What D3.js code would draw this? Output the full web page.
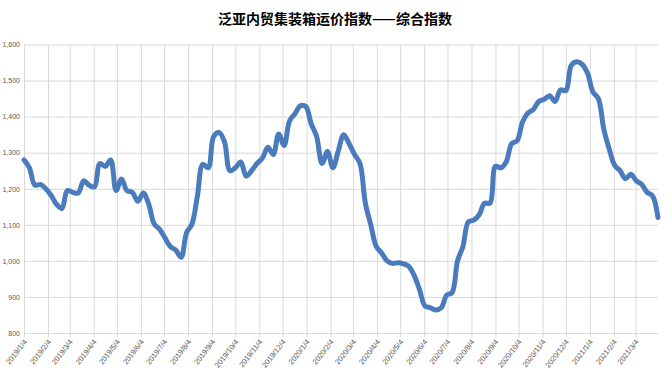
<!DOCTYPE html>
<html>
<head>
<meta charset="utf-8">
<script src="https://cdn.jsdelivr.net/npm/d3@7"></script>
<style>
  body { margin: 0; background: #fff; }
  svg { display: block; }
</style>
</head>
<body>
<svg id="chart" width="670" height="380"></svg>
<script>
// weekly index values (every Friday, starting 2019/1/4)
const firstWeek = '2019/1/4'
const values2019 = [
  1280, 1258, 1210, 1212, 1200, 1182, 1157, 1145, 1195, 1190, 1188, 1222, 1210,
  1205, 1270, 1262, 1280, 1195, 1227, 1195, 1190, 1165, 1188, 1158, 1103, 1088,
  1064, 1040, 1030, 1010, 1078, 1102, 1180, 1268, 1258, 1345, 1356, 1330, 1250,
  1258, 1274, 1235, 1250, 1270, 1285, 1315, 1295, 1352, 1320, 1388, 1408, 1430
]
const values2020 = [
  1428, 1380, 1345, 1270, 1303, 1258, 1305, 1350, 1325, 1295, 1270, 1160, 1100,
  1040, 1022, 1000, 993, 995, 992, 985, 960, 920, 875, 870, 864, 870,
  905, 912, 1000, 1040, 1108, 1113, 1128, 1160, 1160, 1262, 1258, 1275, 1325,
  1333, 1385, 1410, 1420, 1442, 1448, 1458, 1442, 1474, 1472, 1542, 1552, 1545
]
const values2021 = [
  1520, 1468, 1450, 1365, 1310, 1265, 1250, 1228, 1240, 1222, 1212, 1190, 1180, 1120
]

const monthTicks = [
  '2019/1/4', '2019/2/4', '2019/3/4', '2019/4/4', '2019/5/4', '2019/6/4',
  '2019/7/4', '2019/8/4', '2019/9/4', '2019/10/4', '2019/11/4', '2019/12/4',
  '2020/1/4', '2020/2/4', '2020/3/4', '2020/4/4', '2020/5/4', '2020/6/4',
  '2020/7/4', '2020/8/4', '2020/9/4', '2020/10/4', '2020/11/4', '2020/12/4',
  '2021/1/4', '2021/2/4', '2021/3/4'
]
const yTicks = [800, 900, 1000, 1100, 1200, 1300, 1400, 1500, 1600]

const title = '泛亚内贸集装箱运价指数——综合指数'

const parseDate = d3.timeParse('%Y/%m/%d')
const fmtDate = (d) => `${d.getFullYear()}/${d.getMonth() + 1}/${d.getDate()}`

const allValues = values2019.concat(values2020, values2021)
const start = parseDate(firstWeek)
const data = allValues.map((v, i) => ({ date: d3.timeDay.offset(start, i * 7), value: v }))
const tickDates = monthTicks.map(parseDate)

const width = 670
const height = 380
const margin = { top: 44.5, right: 12, bottom: 47, left: 24 }
const chartWidth = width - margin.left - margin.right
const chartHeight = height - margin.top - margin.bottom

const svgNode = d3.select('#chart')

svgNode
  .append('rect')
  .attr('width', width)
  .attr('height', height)
  .attr('fill', '#ffffff')

svgNode
  .append('text')
  .attr('x', 335)
  .attr('y', 24)
  .attr('text-anchor', 'middle')
  .attr('font-family', '"Noto Sans CJK SC", sans-serif')
  .attr('font-weight', 'bold')
  .attr('font-size', 14)
  .attr('fill', '#000')
  .text(title)

const svg = svgNode
  .append('g')
  .attr('transform', `translate(${margin.left},${margin.top})`)
  .attr('id', 'viz')

const x = d3
  .scaleTime()
  .domain(d3.extent(data, (d) => d.date))
  .range([0, chartWidth])

const y = d3.scaleLinear().domain([800, 1600]).range([chartHeight, 0])

// horizontal grid + y labels
const yAxis = svg
  .append('g')
  .attr('id', 'y-axis')
  .call(
    d3
      .axisLeft(y)
      .tickValues(yTicks)
      .tickSize(-chartWidth)
      .tickPadding(4)
      .tickFormat(d3.format(','))
  )
yAxis.select('.domain').remove()
yAxis.selectAll('line').attr('stroke', '#d9d9d9').attr('stroke-width', 1)
yAxis
  .selectAll('text')
  .attr('font-family', '"Liberation Sans", Arial, sans-serif')
  .attr('font-size', 7)
  .attr('fill', '#595959')

// vertical grid (monthly) + rotated date labels
const xAxis = svg
  .append('g')
  .attr('id', 'x-axis')
  .attr('transform', `translate(0,${chartHeight})`)
  .call(
    d3
      .axisBottom(x)
      .tickValues(tickDates)
      .tickSizeInner(-chartHeight)
      .tickSizeOuter(0)
      .tickFormat(fmtDate)
  )
xAxis.select('.domain').remove()
xAxis
  .selectAll('line')
  .attr('y1', 4)
  .attr('stroke', '#d9d9d9')
  .attr('stroke-width', 1)
xAxis
  .selectAll('text')
  .attr('font-family', '"Liberation Sans", Arial, sans-serif')
  .attr('font-size', 7.5)
  .attr('fill', '#595959')
  .attr('text-anchor', 'end')
  .attr('dy', null)
  .attr('y', null)
  .attr('transform', 'translate(3,9) rotate(-52)')

const line = d3
  .line()
  .x((d) => x(d.date))
  .y((d) => y(d.value))
  .curve(d3.curveCatmullRom.alpha(0.5))

svg
  .append('path')
  .datum(data)
  .attr('fill', 'none')
  .attr('stroke', '#4a7bbd')
  .attr('stroke-width', 5)
  .attr('stroke-linejoin', 'round')
  .attr('stroke-linecap', 'round')
  .attr('d', line)
</script>
</body>
</html>
